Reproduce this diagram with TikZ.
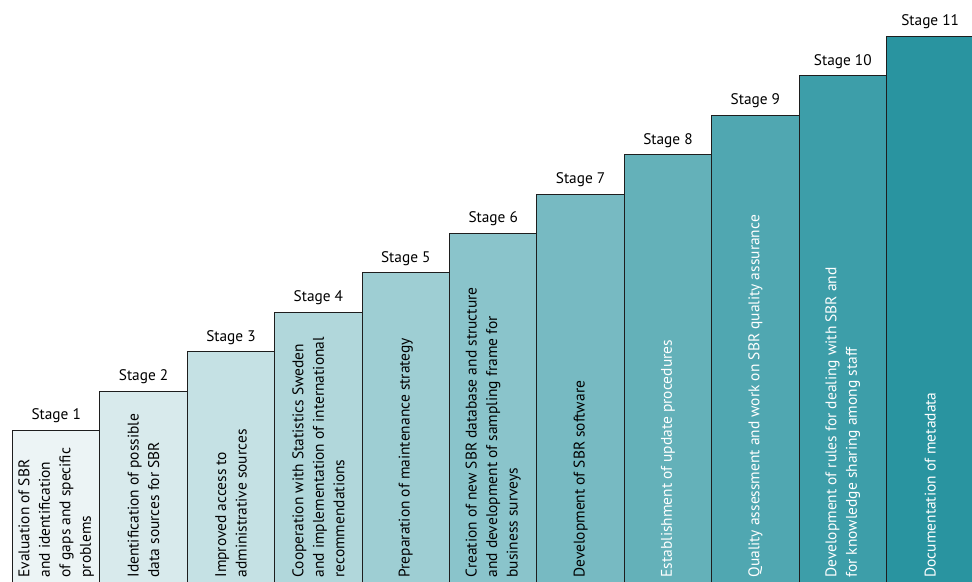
\documentclass[tikz,border=0pt]{standalone}
\usepackage{fontspec}
\setmainfont{PT Sans}
\usetikzlibrary{positioning}
\definecolor{ink}{RGB}{30,30,30}
\definecolor{stagelight}{RGB}{236,244,245}
\definecolor{stagedark}{RGB}{41,148,160}
\tikzset{
  every picture/.style={color=ink, line width=0.25mm},
  stagebar/.style={draw=ink, anchor=south west, minimum width=21.85mm, inner sep=0pt},
  stagelbl/.style={anchor=base, inner sep=0pt, text=black, font=\fontsize{10.9}{12}\selectfont},
  stagetxt/.style={rotate=90, anchor=west, align=left, inner sep=0pt, font=\fontsize{11}{14.6}\selectfont},
}
\begin{document}
\begin{tikzpicture}
  \useasboundingbox (0,0) rectangle (243mm,145.5mm);
  \clip (0,0) rectangle (243mm,145.5mm);
  % one bar per stage, each one step higher than the last
  \foreach \txt [count=\i] in {
    {Evaluation of SBR\\ and identification\\ of gaps and specific\\ problems},
    {Identification of possible\\ data sources for SBR},
    {Improved access to\\ administrative sources},
    {Cooperation with Statistics Sweden\\ and implementation of international\\ recommendations},
    {Preparation of maintenance strategy},
    {Creation of new SBR database and structure\\ and development of sampling frame for\\ business surveys},
    {Development of SBR software},
    {Establishment of update procedures},
    {Quality assessment and work on SBR quality assurance},
    {Development of rules for dealing with SBR and\\ for knowledge sharing among staff},
    {Documentation of metadata}} {
    \pgfmathtruncatemacro\pct{(\i-1)*10}
    \pgfmathsetlengthmacro\xl{(3+(\i-1)*21.85)*1mm}
    \pgfmathsetlengthmacro\h{(39.75+(\i-1)*9.85)*1mm}
    \ifnum\i>7 \def\tc{white}\else\def\tc{black}\fi
    \node[stagebar, fill=stagedark!\pct!stagelight, minimum height=\h] (s\i) at (\xl,-2mm) {};
    \node[stagelbl] (s\i-lbl) at ([yshift=2.5mm]s\i.north) {Stage \i};
    \node[stagetxt, text=\tc] (s\i-txt) at ([yshift=3mm]s\i.south) {\txt};
  }
\end{tikzpicture}
\end{document}
